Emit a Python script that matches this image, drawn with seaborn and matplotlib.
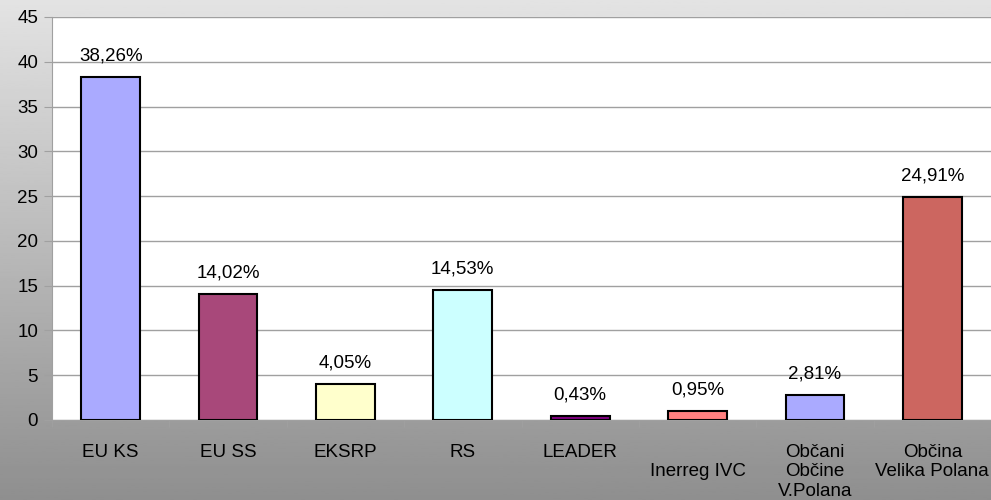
import numpy as np
import pandas as pd
import seaborn as sns
import matplotlib.pyplot as plt

categories = ["EU KS", "EU SS", "EKSRP", "RS", "LEADER", "\nInerreg IVC",
              "Občani\nObčine\nV.Polana", "Občina\nVelika Polana"]
values = [38.26, 14.02, 4.05, 14.53, 0.43, 0.95, 2.81, 24.91]
labels = ["38,26%", "14,02%", "4,05%", "14,53%", "0,43%", "0,95%", "2,81%", "24,91%"]
colors = ["#aaaaff", "#a8487a", "#ffffcc", "#ccffff", "#800080", "#ff8080", "#aaaaff", "#cc6660"]

sns.set_style("white")
plt.rcParams["font.family"] = ["Liberation Sans", "DejaVu Sans"]
plt.rcParams["text.color"] = "black"
plt.rcParams["xtick.color"] = "black"
plt.rcParams["ytick.color"] = "black"

fig = plt.figure(figsize=(9.91, 5), dpi=100)

# gray gradient background
bg = fig.add_axes([0, 0, 1, 1], zorder=-10)
grad = np.linspace(0.89, 0.56, 256).reshape(-1, 1)
bg.imshow(grad, aspect="auto", cmap="gray", vmin=0, vmax=1, extent=[0, 1, 0, 1])
bg.axis("off")

ax = fig.add_axes([52 / 991, 1 - 420 / 500, 939 / 991, 403 / 500])
df = pd.DataFrame({"cat": categories, "val": values})
sns.barplot(data=df, x="cat", y="val", hue="cat", palette=colors, legend=False,
            saturation=1, width=0.5, edgecolor="black", linewidth=1.5, ax=ax, zorder=3)

for i, (v, t) in enumerate(zip(values, labels)):
    ax.text(i, v + 1.4, t, ha="center", va="bottom", fontsize=13.5, zorder=4)

ax.set_ylim(0, 45)
ax.set_xlim(-0.5, 7.5)
ax.set_yticks(range(0, 46, 5))
ax.set_xticks(np.arange(-0.5, 8, 1), minor=True)
ax.yaxis.grid(True, color="#a0a0a0", linewidth=1)
ax.set_axisbelow(True)
ax.set_xlabel("")
ax.set_ylabel("")
for s in ["top", "right"]:
    ax.spines[s].set_visible(False)
ax.spines["left"].set_color("#a0a0a0")
ax.spines["bottom"].set_color("#a0a0a0")
ax.tick_params(axis="y", labelsize=13.5, length=6, color="#a0a0a0", left=True, pad=4)
ax.tick_params(axis="x", which="major", labelsize=13.5, length=0, pad=17)
ax.tick_params(axis="x", which="minor", length=5, color="#a0a0a0", bottom=True)

fig.savefig("out.png", dpi=100)
